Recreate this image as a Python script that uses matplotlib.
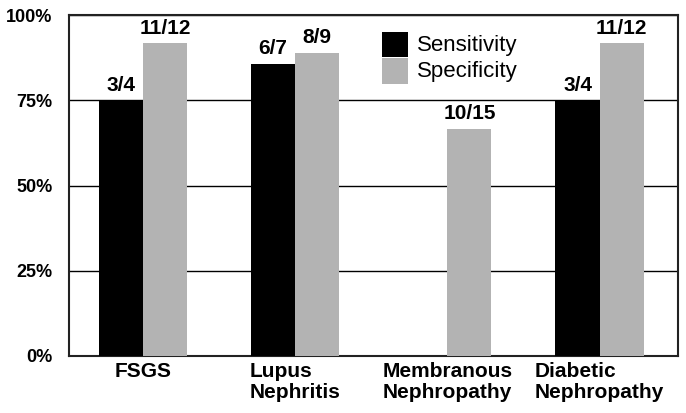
import matplotlib

matplotlib.use("Agg")

import matplotlib.pyplot as plt
import numpy as np
from matplotlib.patches import Rectangle

categories = ["FSGS", "Lupus\nNephritis", "Membranous\nNephropathy", "Diabetic\nNephropathy"]
sens_labels = ["3/4", "6/7", None, "3/4"]
spec_labels = ["11/12", "8/9", "10/15", "11/12"]
sensitivity = [3 / 4, 6 / 7, 0.0, 3 / 4]
specificity = [11 / 12, 8 / 9, 10 / 15, 11 / 12]

BLACK = "#000000"
GRAY = "#b3b3b3"

plt.rcParams["font.family"] = ["Liberation Sans", "DejaVu Sans"]

fig = plt.figure(figsize=(6.86, 4.13), dpi=100)
ax = fig.add_axes([69 / 686, 1 - 356 / 413, 609 / 686, 341 / 413])

x = np.arange(len(categories))
w = 0.29
ax.bar(x - w / 2, [v * 100 for v in sensitivity], w, color=BLACK, zorder=3)
ax.bar(x + w / 2, [v * 100 for v in specificity], w, color=GRAY, zorder=3)

for i in range(len(categories)):
    if sens_labels[i]:
        ax.annotate(sens_labels[i], (x[i] - w / 2, sensitivity[i] * 100), xytext=(0, 4),
                    textcoords="offset points", ha="center", va="bottom", fontsize=15, fontweight="bold")
    ax.annotate(spec_labels[i], (x[i] + w / 2, specificity[i] * 100), xytext=(0, 4),
                textcoords="offset points", ha="center", va="bottom", fontsize=15, fontweight="bold")

ax.set_xlim(-0.485, 3.515)
ax.set_ylim(0, 100)
ax.set_yticks([0, 25, 50, 75, 100])
ax.set_yticklabels(["0%", "25%", "50%", "75%", "100%"], fontsize=13, fontweight="bold")
ax.set_xticks(x)
ax.set_xticklabels(categories, fontsize=15, fontweight="bold", multialignment="left", linespacing=1.15)
ax.tick_params(axis="x", length=0, pad=4)
ax.tick_params(axis="y", length=0, pad=12)
ax.yaxis.grid(True, color="#000000", linewidth=1.0, zorder=0)
ax.set_axisbelow(True)
for s in ax.spines.values():
    s.set_linewidth(1.5)
    s.set_color("#222222")

# legend drawn by hand so the two swatches touch like in the original
fig.patches.append(Rectangle((382 / 686, 1 - 57 / 413), 26 / 686, 25 / 413,
                             transform=fig.transFigure, facecolor=BLACK, edgecolor="none"))
fig.patches.append(Rectangle((382 / 686, 1 - 84 / 413), 26 / 686, 26 / 413,
                             transform=fig.transFigure, facecolor=GRAY, edgecolor="none"))
fig.text(417 / 686, 1 - 45 / 413, "Sensitivity", fontsize=16, va="center", ha="left")
fig.text(417 / 686, 1 - 71 / 413, "Specificity", fontsize=16, va="center", ha="left")

fig.savefig("out.png", dpi=100)
